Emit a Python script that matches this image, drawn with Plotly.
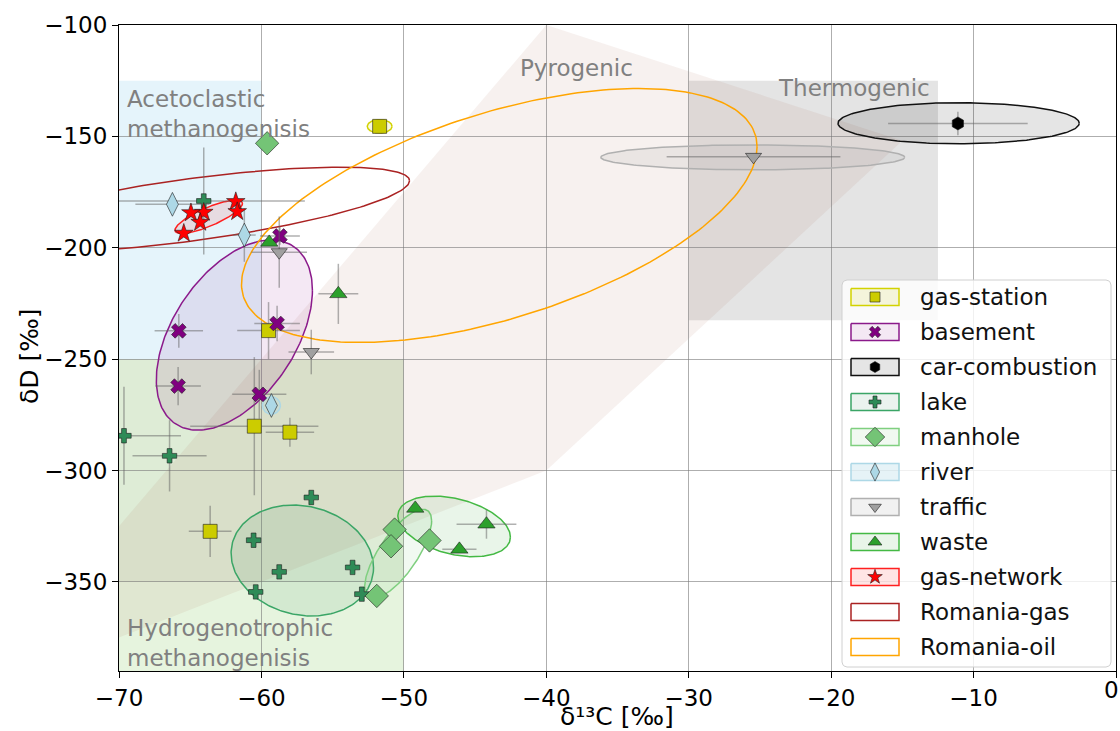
import numpy as np
import plotly.graph_objects as go

FONT = "DejaVu Sans"

# ---------------- data: δ13C [‰], δD [‰] and 1σ errors ----------------
gas_station_x = [-51.7, -59.5, -60.5, -58.0, -63.6]
gas_station_y = [-145.5, -237.2, -280.1, -282.8, -327.3]
gas_station_ex = [0.0, 2.2, 4.5, 1.7, 1.5]
gas_station_ey = [0.0, 12.8, 31.0, 6.5, 11.5]

basement_x = [-58.7, -58.9, -65.8, -65.85, -60.15]
basement_y = [-194.7, -234.0, -237.3, -262.1, -265.8]
basement_ex = [1.4, 1.6, 1.7, 1.6, 1.9]
basement_ey = [4.0, 8.0, 7.6, 8.6, 11.0]

car_x = [-11.1]
car_y = [-144.2]
car_ex = [4.9]
car_ey = [5.3]

lake_x = [-64.05, -69.65, -66.45, -56.5, -60.55, -58.75, -60.4, -53.6, -52.95]
lake_y = [-179.0, -284.4, -293.4, -312.1, -331.3, -345.5, -354.5, -343.5, -355.5]
lake_ex = [7.1, 4.0, 2.6, 0.0, 0.0, 0.0, 0.0, 0.0, 0.0]
lake_ey = [24.0, 22.0, 16.0, 0.0, 0.0, 0.0, 0.0, 0.0, 0.0]

manhole_x = [-59.6, -50.65, -50.9, -48.2, -51.9]
manhole_y = [-153.1, -326.5, -334.0, -331.4, -356.3]
manhole_ex = [0.0, 0.0, 0.0, 0.0, 0.0]
manhole_ey = [0.0, 0.0, 0.0, 0.0, 0.0]

river_x = [-66.25, -61.2, -59.3]
river_y = [-180.5, -194.3, -270.8]
river_ex = [2.6, 0.8, 0.0]
river_ey = [0.0, 12.0, 0.0]

traffic_x = [-25.45, -58.75, -56.5]
traffic_y = [-159.2, -202.0, -246.8]
traffic_ex = [6.1, 1.95, 1.6]
traffic_ey = [0.0, 16.0, 10.0]

waste_x = [-54.6, -59.45, -49.2, -44.2, -46.1]
waste_y = [-220.7, -197.6, -317.0, -324.1, -335.4]
waste_ex = [1.4, 0.0, 0.0, 2.1, 1.2]
waste_ey = [13.5, 0.0, 0.0, 6.5, 0.0]

gas_network_x = [-61.8, -61.7, -64.05, -64.95, -64.3, -65.45]
gas_network_y = [-179.3, -183.8, -184.1, -184.3, -188.6, -193.5]
gas_network_ex = [0.0] * 6
gas_network_ey = [0.0] * 6

# confidence ellipses: centre x, centre y, x half-range, y half-range, correlation
ellipse_names = ["gas-station", "basement", "car-combustion", "lake", "manhole",
                 "river", "traffic", "waste", "gas-network", "Romania-gas", "Romania-oil"]
ellipse_cx = [-51.7, -61.9, -11.05, -57.13, -50.4, -59.3, -25.5, -46.47, -63.7, -65.0, -43.3]
ellipse_cy = [-145.5, -239.2, -144.1, -340.4, -337.4, -270.8, -159.4, -325.1, -186.1, -183.0, -185.5]
ellipse_ax = [0.87, 5.48, 8.47, 5.0, 2.35, 0.63, 10.67, 3.95, 2.37, 15.4, 18.1]
ellipse_by = [3.0, 42.7, 9.2, 24.9, 20.0, 3.9, 5.6, 13.6, 7.5, 19.2, 57.0]
ellipse_rho = [0.0, 0.47, 0.0, -0.13, 0.74, 0.0, 0.0, -0.35, 0.8, 0.68, 0.54]

# genetic fields
acetoclastic_x = [-70, -60]
acetoclastic_y = [-250, -125]
hydrogenotrophic_x = [-70, -50]
hydrogenotrophic_y = [-400, -250]
overlap_x = [-70, -50]
overlap_y = [-350, -250]
thermogenic_x = [-30, -12.5]
thermogenic_y = [-232.5, -125]
pyrogenic_x = [-40, -15, -40, -80]
pyrogenic_y = [-100, -152, -300, -400]

# ---------------- styles ----------------
groups = [
    dict(name="gas-station", x=gas_station_x, y=gas_station_y, ex=gas_station_ex, ey=gas_station_ey,
         symbol="square", size=14, color="#cccc00", edge="#d2d200", fill="rgba(204,204,0,0.12)", lsize=10),
    dict(name="basement", x=basement_x, y=basement_y, ex=basement_ex, ey=basement_ey,
         symbol="x", size=13, color="#800080", edge="#8b1a8b", fill="rgba(128,0,128,0.09)", lsize=10),
    dict(name="car-combustion", x=car_x, y=car_y, ex=car_ex, ey=car_ey,
         symbol="hexagon", size=13, color="#000000", edge="#111111", fill="rgba(0,0,0,0.1)", lsize=11),
    dict(name="lake", x=lake_x, y=lake_y, ex=lake_ex, ey=lake_ey,
         symbol="cross", size=12, color="#2e8b57", edge="#3aa566", fill="rgba(46,139,87,0.1)", lsize=10),
    dict(name="manhole", x=manhole_x, y=manhole_y, ex=manhole_ex, ey=manhole_ey,
         symbol="diamond", size=18, color="#74c476", edge="#7fcf7f", fill="rgba(116,196,118,0.1)", lsize=15),
    dict(name="river", x=river_x, y=river_y, ex=river_ex, ey=river_ey,
         symbol="diamond-tall", size=17, color="#add8e6", edge="#add8e6", fill="rgba(173,216,230,0.3)", lsize=13),
    dict(name="traffic", x=traffic_x, y=traffic_y, ex=traffic_ex, ey=traffic_ey,
         symbol="triangle-down", size=14, color="#a0a0a0", edge="#b0b0b0", fill="rgba(160,160,160,0.15)", lsize=11),
    dict(name="waste", x=waste_x, y=waste_y, ex=waste_ex, ey=waste_ey,
         symbol="triangle-up", size=15, color="#2ca02c", edge="#44b944", fill="rgba(44,160,44,0.1)", lsize=12),
    dict(name="gas-network", x=gas_network_x, y=gas_network_y, ex=gas_network_ex, ey=gas_network_ey,
         symbol="star", size=14, color="#ff0000", edge="#ff2020", fill="rgba(255,0,0,0.1)", lsize=11),
]
romania = [
    dict(name="Romania-gas", edge="#aa2222"),
    dict(name="Romania-oil", edge="#ffa500"),
]


def ellipse(cx, cy, a, b, rho, n=240):
    t = np.linspace(0, 2 * np.pi, n)
    xs = cx + a * np.cos(t)
    ys = cy + b * (rho * np.cos(t) + np.sqrt(1 - rho ** 2) * np.sin(t))
    return xs, ys


fig = go.Figure()

# ellipses
for i, name in enumerate(ellipse_names):
    xs, ys = ellipse(ellipse_cx[i], ellipse_cy[i], ellipse_ax[i], ellipse_by[i], ellipse_rho[i])
    g = next((gg for gg in groups if gg["name"] == name), None)
    if g is not None:
        fig.add_trace(go.Scatter(x=xs, y=ys, mode="lines", fill="toself", fillcolor=g["fill"],
                                 line=dict(color=g["edge"], width=1.5), hoverinfo="skip",
                                 showlegend=False))
    else:
        r = next(rr for rr in romania if rr["name"] == name)
        fig.add_trace(go.Scatter(x=xs, y=ys, mode="lines",
                                 line=dict(color=r["edge"], width=1.5), hoverinfo="skip",
                                 showlegend=False))

# points with error bars
for g in groups:
    fig.add_trace(go.Scatter(
        x=g["x"], y=g["y"], mode="markers", name=g["name"], showlegend=False,
        error_x=dict(type="data", array=g["ex"], visible=True, color="rgba(100,100,100,0.5)",
                     thickness=1.5, width=0),
        error_y=dict(type="data", array=g["ey"], visible=True, color="rgba(100,100,100,0.5)",
                     thickness=1.5, width=0),
        marker=dict(symbol=g["symbol"], size=g["size"], color=g["color"],
                    line=dict(color="rgba(30,30,30,0.75)", width=0.8)),
    ))

# ---------------- shaded genetic fields ----------------
shapes = []


def rect(xr, yr, color):
    return dict(type="rect", xref="x", yref="y", x0=xr[0], x1=xr[1], y0=yr[0], y1=yr[1],
                fillcolor=color, line=dict(width=0), layer="below")


shapes.append(rect(acetoclastic_x, acetoclastic_y, "rgba(135,206,235,0.22)"))
shapes.append(rect(hydrogenotrophic_x, hydrogenotrophic_y, "rgba(130,200,90,0.2)"))
shapes.append(rect(overlap_x, overlap_y, "rgba(40,60,40,0.045)"))
shapes.append(rect(thermogenic_x, thermogenic_y, "rgba(128,128,128,0.21)"))
path = "M " + " L ".join(f"{a},{b}" for a, b in zip(pyrogenic_x, pyrogenic_y)) + " Z"
shapes.append(dict(type="path", xref="x", yref="y", path=path,
                   fillcolor="rgba(170,100,75,0.09)", line=dict(width=0), layer="below"))

# ---------------- manual legend (overlay axes in plot-area fractions) ----------------
L, R, T, B = 119, 1116, 25, 671
W, H = R - L, B - T


def fx(px):
    return (px - L) / W


def fy(py):
    return (B - py) / H


def rounded_box(x0, y0, x1, y1, r=5, n=8):
    pts = []
    corners = [(x1 - r, y0 + r, -np.pi / 2, 0), (x1 - r, y1 - r, 0, np.pi / 2),
               (x0 + r, y1 - r, np.pi / 2, np.pi), (x0 + r, y0 + r, np.pi, 1.5 * np.pi)]
    for cx, cy, a0, a1 in corners:
        for a in np.linspace(a0, a1, n):
            pts.append((cx + r * np.cos(a), cy + r * np.sin(a)))
    pts.append(pts[0])
    return [fx(p[0]) for p in pts], [fy(p[1]) for p in pts]


bx, by = rounded_box(842, 280, 1111, 667)
fig.add_trace(go.Scatter(x=bx, y=by, xaxis="x2", yaxis="y2", mode="lines", fill="toself",
                         fillcolor="rgba(255,255,255,0.82)", line=dict(color="#d0d0d0", width=1),
                         hoverinfo="skip", showlegend=False))

legend_items = [(g["name"], g["edge"], g["fill"], g) for g in groups] + \
               [(r["name"], r["edge"], "rgba(255,255,255,1)", None) for r in romania]
item_y0, item_dy = 297, 35
patch_x0, patch_x1, patch_h = 851, 899, 17
annotations = []
for k, (name, edge, fill, g) in enumerate(legend_items):
    yc = item_y0 + k * item_dy
    px_ = [patch_x0, patch_x1, patch_x1, patch_x0, patch_x0]
    py_ = [yc - patch_h / 2, yc - patch_h / 2, yc + patch_h / 2, yc + patch_h / 2, yc - patch_h / 2]
    fig.add_trace(go.Scatter(x=[fx(p) for p in px_], y=[fy(p) for p in py_], xaxis="x2", yaxis="y2",
                             mode="lines", fill="toself", fillcolor=fill,
                             line=dict(color=edge, width=1.5), hoverinfo="skip", showlegend=False))
    if g is not None:
        fig.add_trace(go.Scatter(x=[fx((patch_x0 + patch_x1) / 2)], y=[fy(yc)], xaxis="x2", yaxis="y2",
                                 mode="markers", hoverinfo="skip", showlegend=False,
                                 marker=dict(symbol=g["symbol"], size=g["lsize"], color=g["color"],
                                             line=dict(color="rgba(30,30,30,0.75)", width=0.8))))
    annotations.append(dict(xref="paper", yref="paper", x=fx(918), y=fy(yc), text=name,
                            showarrow=False, xanchor="left", yanchor="middle",
                            font=dict(family=FONT, size=23, color="#111111")))

# field labels
label_style = dict(family=FONT, size=23, color="#808080")
annotations += [
    dict(xref="x", yref="y", x=-69.6, y=-126.3, text="Acetoclastic<br>methanogenisis",
         showarrow=False, xanchor="left", yanchor="top", align="left", font=label_style),
    dict(xref="x", yref="y", x=-69.6, y=-364.0, text="Hydrogenotrophic<br>methanogenisis",
         showarrow=False, xanchor="left", yanchor="top", align="left", font=label_style),
    dict(xref="x", yref="y", x=-37.9, y=-119.3, text="Pyrogenic",
         showarrow=False, xanchor="center", yanchor="middle", font=label_style),
    dict(xref="x", yref="y", x=-18.4, y=-128.3, text="Thermogenic",
         showarrow=False, xanchor="center", yanchor="middle", font=label_style),
]
# axis titles and the edge tick label "0" (plotly drops it because it overflows the page)
annotations += [
    dict(xref="paper", yref="paper", x=fx(30), y=fy(356), text="δD [‰]", textangle=-90,
         showarrow=False, xanchor="center", yanchor="middle",
         font=dict(family=FONT, size=25, color="black")),
    dict(xref="paper", yref="paper", x=fx(617), y=fy(716), text="δ¹³C [‰]",
         showarrow=False, xanchor="center", yanchor="middle",
         font=dict(family=FONT, size=25, color="black")),
    dict(xref="paper", yref="paper", x=1.0, xshift=-5, y=fy(690), text="0",
         showarrow=False, xanchor="center", yanchor="middle",
         font=dict(family=FONT, size=23, color="black")),
]

axis_common = dict(showgrid=True, gridcolor="rgba(120,120,120,0.6)", gridwidth=1.3,
                   showline=True, linecolor="black", linewidth=1.2, mirror=True,
                   ticks="outside", ticklen=6, tickwidth=1.2, tickcolor="black",
                   tickfont=dict(family=FONT, size=23, color="black"), zeroline=False,
                   automargin=False)

fig.update_layout(
    width=1120, height=731,
    margin=dict(l=L, r=1120 - R, t=T, b=731 - B, autoexpand=False),
    paper_bgcolor="white", plot_bgcolor="white",
    showlegend=False,
    xaxis=dict(range=[-70, 0], dtick=10, tick0=0, **axis_common),
    yaxis=dict(range=[-390, -100], dtick=50, tick0=0, **axis_common),
    xaxis2=dict(domain=[0, 1], range=[0, 1], overlaying="x", anchor="y2", visible=False, fixedrange=True),
    yaxis2=dict(domain=[0, 1], range=[0, 1], overlaying="y", anchor="x2", visible=False, fixedrange=True),
    shapes=shapes,
    annotations=annotations,
)

fig.write_html("out.html", config={"displayModeBar": False},
               post_script="document.body.style.margin='0';document.body.style.overflow='hidden';")
